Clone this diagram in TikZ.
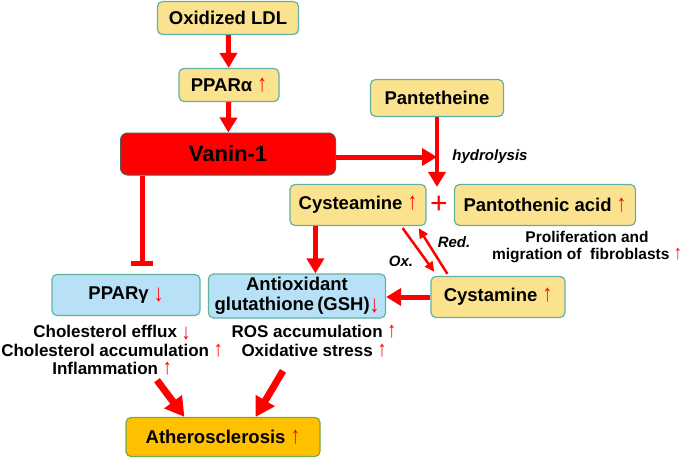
\documentclass[tikz,border=0pt]{standalone}
\usepackage{fontspec}
\usepackage{graphicx}
\setmainfont{Liberation Sans}
\usetikzlibrary{arrows.meta}
\definecolor{boxyellow}{RGB}{251,226,142}
\definecolor{boxedge}{RGB}{96,178,160}
\definecolor{boxblue}{RGB}{184,225,248}
\definecolor{athorange}{RGB}{255,192,0}
\definecolor{athedge}{RGB}{112,173,71}
\newcommand{\uparr}{{\mdseries\color{red}\smash{\scalebox{1.05}[1.3]{↑}}}}
\newcommand{\dnarr}{{\mdseries\color{red}\smash{\raisebox{-0.12em}{\scalebox{1.05}[1.3]{↓}}}}}
\begin{document}
\begin{tikzpicture}[x=1pt, y=-1pt,
    yellowbox/.style={rectangle, rounded corners=5pt, draw=boxedge, line width=1.2pt, fill=boxyellow, inner sep=0pt, font=\fontsize{18.5}{20}\selectfont\bfseries},
    bluebox/.style={yellowbox, fill=boxblue},
    vaninbox/.style={rectangle, rounded corners=7pt, draw=gray!70!black, line width=1pt, fill=red, inner sep=0pt, font=\fontsize{22}{24}\selectfont\bfseries},
    note/.style={align=center, inner sep=0pt, font=\fontsize{17}{18.8}\selectfont\bfseries},
    redoxlabel/.style={inner sep=0pt, font=\fontsize{15}{15}\selectfont\bfseries\itshape},
    arrow/.style={red, line width=5pt, -{Triangle[width=17pt,length=15pt]}},
    bigarrow/.style={red, line width=7pt, -{Triangle[width=21pt,length=19pt]}},
    thinarrow/.style={red, line width=2.5pt, -{Triangle[width=9pt,length=10pt]}},
    inhibit/.style={red, line width=5pt, -{Bar[width=22pt,line width=5pt]}}
]
    \useasboundingbox (0,0) rectangle (685,460);

    % Upper chain
    \node (oxldl) at (228,18) [yellowbox, minimum width=141pt, minimum height=33pt] {Oxidized LDL};
    \node (ppara) at (229,85) [yellowbox, minimum width=100pt, minimum height=33pt] {PPARα \uparr};
    \node (vanin) at (228,154) [vaninbox, minimum width=215pt, minimum height=42pt] {Vanin-1};

    % Pantetheine branch
    \node (pant) at (437,98) [yellowbox, minimum width=133pt, minimum height=37pt] {Pantetheine};
    \node (hyd) at (490,157) [redoxlabel] {hydrolysis};
    \node (cystea) at (358,205) [yellowbox, minimum width=136pt, minimum height=41pt] {Cysteamine \uparr};
    \node (plus) at (439,205) [text=red, inner sep=0pt, font=\fontsize{30}{30}\selectfont] {+};
    \node (panto) at (545,205) [yellowbox, minimum width=181pt, minimum height=41pt] {Pantothenic acid \uparr};
    \node (prolif) at (587,247) [note, font=\fontsize{15.5}{16.8}\selectfont\bfseries] {Proliferation and\\migration of\ \ fibroblasts \uparr};
    \node (cystam) at (498,297) [yellowbox, minimum width=134pt, minimum height=41pt] {Cystamine \uparr};
    \node (ox) at (401,261) [redoxlabel] {Ox.};
    \node (red) at (454,242) [redoxlabel] {Red.};

    % Lower row
    \node (pparg) at (126,295) [bluebox, minimum width=148pt, minimum height=41pt] {PPARγ \dnarr};
    \node (gsh) at (297,296) [bluebox, align=center, minimum width=177pt, minimum height=44pt] {Antioxidant\\glutathione\,(GSH)\dnarr};
    \node (chol) at (112,350) [note] {Cholesterol efflux \dnarr\\Cholesterol accumulation \uparr\\Inflammation \uparr};
    \node (ros) at (314,341) [note] {ROS accumulation \uparr\\Oxidative stress \uparr};
    \node (ather) at (223,437) [yellowbox, fill=athorange, draw=athedge, minimum width=194pt, minimum height=39pt] {Atherosclerosis \uparr};

    % Connectors
    \draw [arrow] (oxldl) -- (ppara);
    \draw [arrow] (ppara) -- (vanin);
    \draw [arrow] ([yshift=-3pt]vanin.east) -- ([yshift=-3pt]vanin.east -| pant.south);
    \draw [arrow, line width=4pt] (pant.south) -- ([yshift=-3pt]pant.south |- cystea.north);
    \draw [inhibit] ([xshift=22pt]vanin.south west) -- ([xshift=22pt,yshift=8pt]vanin.south west |- pparg.north);
    \draw [arrow] ([xshift=26pt]cystea.south west) -- ([xshift=26pt]cystea.south west |- gsh.north);
    \draw [arrow] (cystam.west) -- (cystam.west -| gsh.east);
    \draw [thinarrow] ([xshift=-24pt,yshift=-2pt]cystea.south east) -- ([xshift=4pt,yshift=4pt]cystam.north west);
    \draw [thinarrow] ([xshift=17pt,yshift=2pt]cystam.north west) -- ([xshift=-8pt,yshift=-2pt]cystea.south east);
    \draw [bigarrow] ([xshift=45pt,yshift=-5pt]chol.south) -- ([xshift=59pt]ather.north west);
    \draw [bigarrow] ([xshift=-31pt,yshift=-14pt]ros.south) -- ([xshift=-65pt]ather.north east);
\end{tikzpicture}
\end{document}
